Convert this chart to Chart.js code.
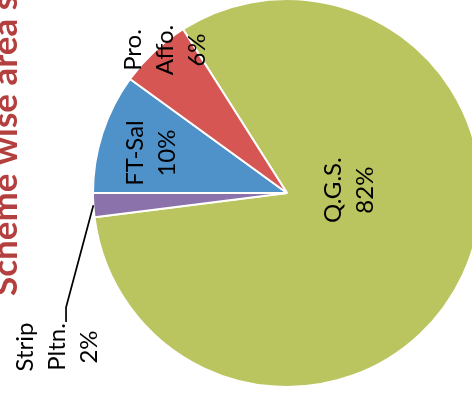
<!DOCTYPE html>
<html>
<head>
<meta charset="utf-8">
<script src="https://cdn.jsdelivr.net/npm/chart.js@4/dist/chart.umd.min.js"></script>
<style>
  html, body { margin: 0; padding: 0; background: #ffffff; }
  #frame { position: relative; width: 472px; height: 396px; overflow: hidden; background: #ffffff; }
  #chart { position: absolute; left: 0; top: -1px; }
</style>
</head>
<body>
<div id="frame"><canvas id="chart" width="574" height="388"></canvas></div>
<script>
// ---- data ----
const categories = ['Q.G.S.', 'Strip Pltn.', 'FT-Sal', 'Pro. Affo.'];
const shares = [82, 2, 10, 6];
const sliceColors = ['#BBC560', '#8C72AB', '#4F92C9', '#D55653'];
const titleText = 'Scheme wise area s';

// ---- label placement (fractions of the pie radius, relative to its centre) ----
const labelPlacement = [
  { dx: 0.278, dy: -0.015 },
  { dx: -1.309, dy: 0.794 },
  { dx: -0.742, dy: -0.206 },
  { dx: -0.753, dy: -0.737 }
];
const leaderFor = { 1: [{ dx: -1.139, dy: 0.59 }, { dx: -1.139, dy: 0.665 }] };

const labelPlugin = {
  id: 'rotatedLabels',
  afterDraw(chart) {
    const ctx = chart.ctx;
    const meta = chart.getDatasetMeta(0);
    const arcs = meta.data;
    const total = shares.reduce((a, b) => a + b, 0);
    ctx.save();
    // leader lines
    Object.keys(leaderFor).forEach(k => {
      const arc = arcs[k];
      const r = arc.outerRadius;
      const mid = (arc.startAngle + arc.endAngle) / 2;
      ctx.beginPath();
      ctx.moveTo(arc.x + Math.cos(mid) * r, arc.y + Math.sin(mid) * r);
      leaderFor[k].forEach(p => ctx.lineTo(arc.x + p.dx * r, arc.y + p.dy * r));
      ctx.strokeStyle = '#000000';
      ctx.lineWidth = 1.7;
      ctx.stroke();
    });
    // labels
    ctx.fillStyle = '#000000';
    ctx.font = '24px Lato';
    ctx.textAlign = 'center';
    ctx.textBaseline = 'alphabetic';
    const lineH = 32;
    arcs.forEach((arc, i) => {
      const r = arc.outerRadius;
      const p = labelPlacement[i];
      const lines = categories[i].split(' ').concat([Math.round(shares[i] / total * 100) + '%']);
      ctx.save();
      ctx.translate(arc.x + p.dx * r, arc.y + p.dy * r);
      ctx.rotate(-Math.PI / 2);
      lines.forEach((t, j) => ctx.fillText(t, 0, j * lineH));
      ctx.restore();
    });
    // title
    ctx.save();
    ctx.translate(17, 297);
    ctx.rotate(-Math.PI / 2);
    ctx.fillStyle = '#B3403E';
    ctx.font = 'bold 35px Lato';
    ctx.textAlign = 'left';
    ctx.fillText(titleText, 0, 0);
    ctx.restore();
    ctx.restore();
  }
};

new Chart(document.getElementById('chart'), {
  type: 'pie',
  data: {
    labels: categories,
    datasets: [{
      data: shares,
      backgroundColor: sliceColors,
      borderColor: '#ffffff',
      borderWidth: 2,
      clip: false
    }]
  },
  options: {
    responsive: false,
    animation: false,
    devicePixelRatio: 1,
    rotation: 327.6,
    radius: 194,
    layout: { padding: 0 },
    plugins: {
      legend: { display: false },
      title: { display: false },
      tooltip: { enabled: false }
    }
  },
  plugins: [labelPlugin]
});
</script>
</body>
</html>
